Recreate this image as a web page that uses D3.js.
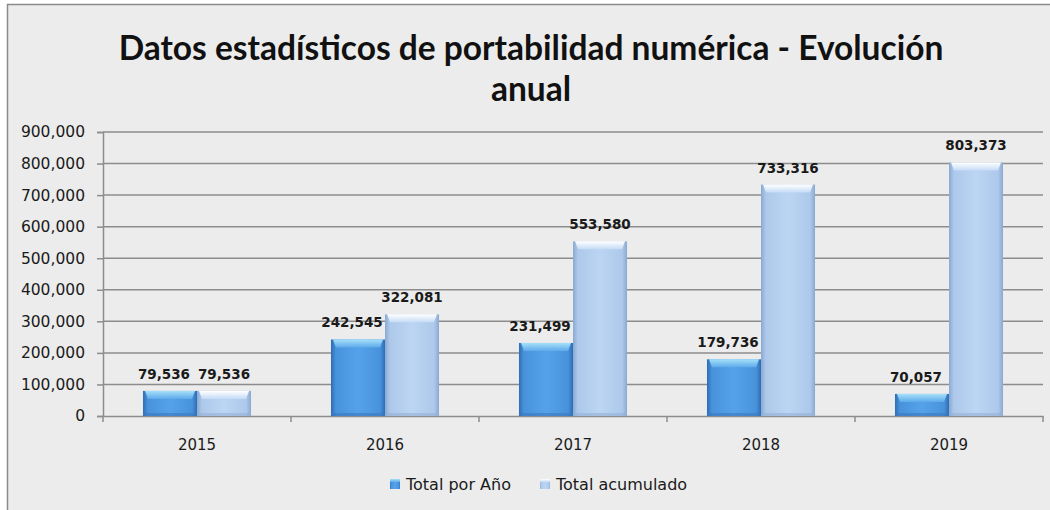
<!DOCTYPE html>
<html>
<head>
<meta charset="utf-8">
<script src="https://cdn.jsdelivr.net/npm/d3@7"></script>
<style>
  body { margin: 0; background: #fff; }
</style>
</head>
<body>
<div id="chart"></div>
<script>
// Data
const years = ['2015', '2016', '2017', '2018', '2019'];
const totalPorAnio = [79536, 242545, 231499, 179736, 70057];
const totalAcumulado = [79536, 322081, 553580, 733316, 803373];
const seriesNames = ['Total por Año', 'Total acumulado'];
const yTicks = [0, 100000, 200000, 300000, 400000, 500000, 600000, 700000, 800000, 900000];

const W = 1050, H = 510;
const margin = {top: 132, right: 7, bottom: 94, left: 103};
const width = W - margin.left - margin.right;
const height = H - margin.top - margin.bottom;

const svg = d3.select('#chart').append('svg')
    .attr('width', W)
    .attr('height', H);

// chart frame (right and bottom edges fall outside the picture)
svg.append('rect')
    .attr('x', 7.5).attr('y', 4.5)
    .attr('width', W + 10).attr('height', H + 10)
    .attr('fill', '#ececec')
    .attr('stroke', '#8a8a8a')
    .attr('stroke-width', 1.5);

// gradients for the bevelled bars
const defs = svg.append('defs');
function sideGrad(id, edge, mid, center) {
    const g = defs.append('linearGradient').attr('id', id)
        .attr('x1', 0).attr('x2', 1).attr('y1', 0).attr('y2', 0);
    [[0, edge], [0.09, mid], [0.5, center], [0.91, mid], [1, edge]].forEach(s => {
        g.append('stop').attr('offset', s[0]).attr('stop-color', s[1]);
    });
}
function topGrad(id, light, base) {
    const g = defs.append('linearGradient').attr('id', id)
        .attr('x1', 0).attr('x2', 0).attr('y1', 0).attr('y2', 1);
    g.append('stop').attr('offset', 0).attr('stop-color', light);
    g.append('stop').attr('offset', 1).attr('stop-color', base);
}
sideGrad('side0', '#2e6db3', '#4892dc', '#55a2ea');
sideGrad('side1', '#8aa9d2', '#adc8ea', '#bcd5f3');
topGrad('top0', '#a6e0fa', '#5eaaea');
topGrad('top1', '#ffffff', '#c4dbf5');

const g = svg.append('g')
    .attr('transform', `translate(${margin.left},${margin.top})`);

// Scales
const x0 = d3.scaleBand().domain(years).range([0, width]).paddingInner(0).paddingOuter(0);
const x1 = d3.scaleBand().domain([0, 1]).range([0, x0.bandwidth()]).paddingOuter(0.74).paddingInner(0);
const y = d3.scaleLinear().domain([0, 900000]).range([height, 0]);

// gridlines
g.append('g')
    .selectAll('line')
    .data(yTicks.slice(1))
    .join('line')
    .attr('x1', 0).attr('x2', width)
    .attr('y1', d => y(d)).attr('y2', d => y(d))
    .attr('stroke', '#8c8c8c')
    .attr('stroke-width', 1.5);

// y axis
const yAxis = g.append('g')
    .call(d3.axisLeft(y).tickValues(yTicks).tickSize(6).tickPadding(12)
        .tickFormat(d => d === 0 ? '0' : d3.format(',')(d)));
yAxis.select('.domain').attr('stroke', '#8c8c8c').attr('stroke-width', 1.5);
yAxis.selectAll('.tick line').attr('stroke', '#8c8c8c').attr('stroke-width', 1.5);
yAxis.selectAll('text')
    .style('font-family', 'DejaVu Sans, sans-serif')
    .style('font-size', '15.5px')
    .attr('fill', '#1a1a1a');

// x axis
const xAxis = g.append('g')
    .attr('transform', `translate(0,${height})`)
    .call(d3.axisBottom(x0).tickSize(0).tickPadding(23));
xAxis.select('.domain').attr('stroke', '#8c8c8c').attr('stroke-width', 1.5);
xAxis.selectAll('text')
    .style('font-family', 'DejaVu Sans, sans-serif')
    .style('font-size', '15px')
    .attr('fill', '#1a1a1a');
// category boundary ticks
g.append('g')
    .selectAll('line')
    .data(years.concat(['end']))
    .join('line')
    .attr('x1', (d, i) => i < years.length ? x0(d) : width)
    .attr('x2', (d, i) => i < years.length ? x0(d) : width)
    .attr('y1', height).attr('y2', height + 6)
    .attr('stroke', '#8c8c8c')
    .attr('stroke-width', 1.5);

// bars
const series = [totalPorAnio, totalAcumulado];
const bev = 8;
series.forEach((vals, s) => {
    const grp = g.append('g');
    years.forEach((yr, i) => {
        const bx = x0(yr) + x1(s);
        const bw = x1.bandwidth();
        const by = y(vals[i]);
        const bh = height - by;
        grp.append('rect')
            .attr('x', bx).attr('y', by)
            .attr('width', bw).attr('height', bh)
            .attr('fill', `url(#side${s})`);
        const b = Math.min(bev, bh);
        grp.append('path')
            .attr('d', `M${bx + 2},${by}L${bx + bw - 2},${by}L${bx + bw - 5},${by + b}L${bx + 5},${by + b}Z`)
            .attr('fill', `url(#top${s})`);
        // darker bottom edge
        grp.append('rect')
            .attr('x', bx).attr('y', height - 3)
            .attr('width', bw).attr('height', 3)
            .attr('fill', s === 0 ? '#3b78bd' : '#95b1d6')
            .attr('opacity', 0.6);
    });
    // labels
    grp.selectAll('text')
        .data(vals)
        .join('text')
        .attr('x', (d, i) => x0(years[i]) + x1(s) + x1.bandwidth() / 2 - (s === 0 ? 6 : 0))
        .attr('y', d => y(d) - 12)
        .attr('text-anchor', 'middle')
        .style('font-family', 'DejaVu Sans, sans-serif')
        .style('font-weight', 'bold')
        .style('font-size', '13.5px')
        .attr('fill', '#1a1a1a')
        .text(d => d3.format(',')(d));
});

// title
const title = svg.append('text')
    .attr('text-anchor', 'middle')
    .style('font-family', 'Lato, sans-serif')
    .style('font-weight', 'bold')
    .style('font-size', '33.5px')
    .attr('fill', '#111');
title.append('tspan').attr('x', 531).attr('y', 60)
    .text('Datos estadísticos de portabilidad numérica - Evolución');
title.append('tspan').attr('x', 531).attr('y', 101)
    .text('anual');

// legend
const legend = svg.append('g').attr('transform', 'translate(390,484)');
const legX = [0, 150];
seriesNames.forEach((name, s) => {
    const item = legend.append('g').attr('transform', `translate(${legX[s]},0)`);
    item.append('rect')
        .attr('x', 0).attr('y', -5)
        .attr('width', 10).attr('height', 10)
        .attr('fill', `url(#side${s})`);
    item.append('rect')
        .attr('x', 0).attr('y', -5)
        .attr('width', 10).attr('height', 3)
        .attr('fill', `url(#top${s})`);
    item.append('text')
        .attr('x', 16).attr('y', 5.5)
        .style('font-family', 'DejaVu Sans, sans-serif')
        .style('font-size', '16px')
        .attr('fill', '#1a1a1a')
        .text(name);
});
</script>
</body>
</html>
